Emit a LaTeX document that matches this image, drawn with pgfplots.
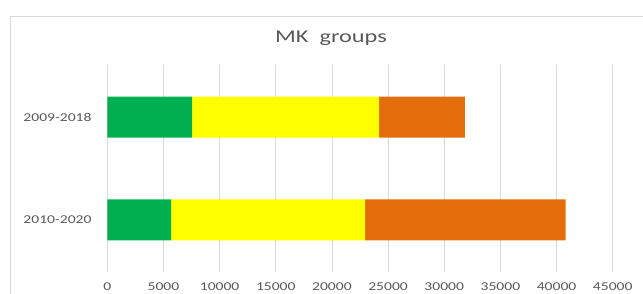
\documentclass[border=0pt]{standalone}
\usepackage{fontspec}
\setmainfont{Carlito}[FakeStretch=1.3]
\newfontfamily\titlefont{Carlito}[FakeStretch=1.35]
\usepackage{pgfplots}
\pgfplotsset{compat=1.18}
\definecolor{cgreen}{HTML}{00B050}
\definecolor{cyellow}{HTML}{FFFF00}
\definecolor{corange}{HTML}{E46C0A}
\definecolor{ctext}{HTML}{595959}
\definecolor{cgrid}{HTML}{D9D9D9}
\begin{document}
\begin{tikzpicture}[x=1pt,y=1pt]
\useasboundingbox (0,0) rectangle (643,293);
\fill[white] (0,0) rectangle (643,293);
\draw[cgrid, line width=0.8pt] (10.7,-2) -- (10.7,277) -- (646,277);
\node[text=ctext, font=\titlefont\fontsize{18}{20}\selectfont] at (331,255) {MK~~groups};
\begin{axis}[
 at={(107.3pt,21pt)}, anchor=south west,
 width=505.4pt, height=207pt, scale only axis,
 xbar stacked, bar width=41pt,
 xmin=0, xmax=45000, ymin=-0.505, ymax=1.505,
 xtick={0,5000,...,45000},
 ytick={0,1}, yticklabels={2010-2020,2009-2018},
 xmajorgrids, grid style={cgrid, line width=0.8pt},
 axis line style={draw=none},
 major tick length=0pt,
 scaled x ticks=false,
 /pgf/number format/1000 sep={},
 /pgf/number format/assume math mode=true,
 tick label style={text=ctext, font=\fontsize{12}{14}\selectfont},
 xticklabel style={anchor=center, yshift=-15pt},
 yticklabel style={anchor=east, inner sep=0pt, xshift=-15.6pt},
]
\addplot[fill=cgreen, draw=none] coordinates {(5690,0) (7560,1)};
\addplot[fill=cyellow, draw=none] coordinates {(17270,0) (16650,1)};
\addplot[fill=corange, draw=none] coordinates {(17840,0) (7630,1)};
\end{axis}
\end{tikzpicture}
\end{document}
